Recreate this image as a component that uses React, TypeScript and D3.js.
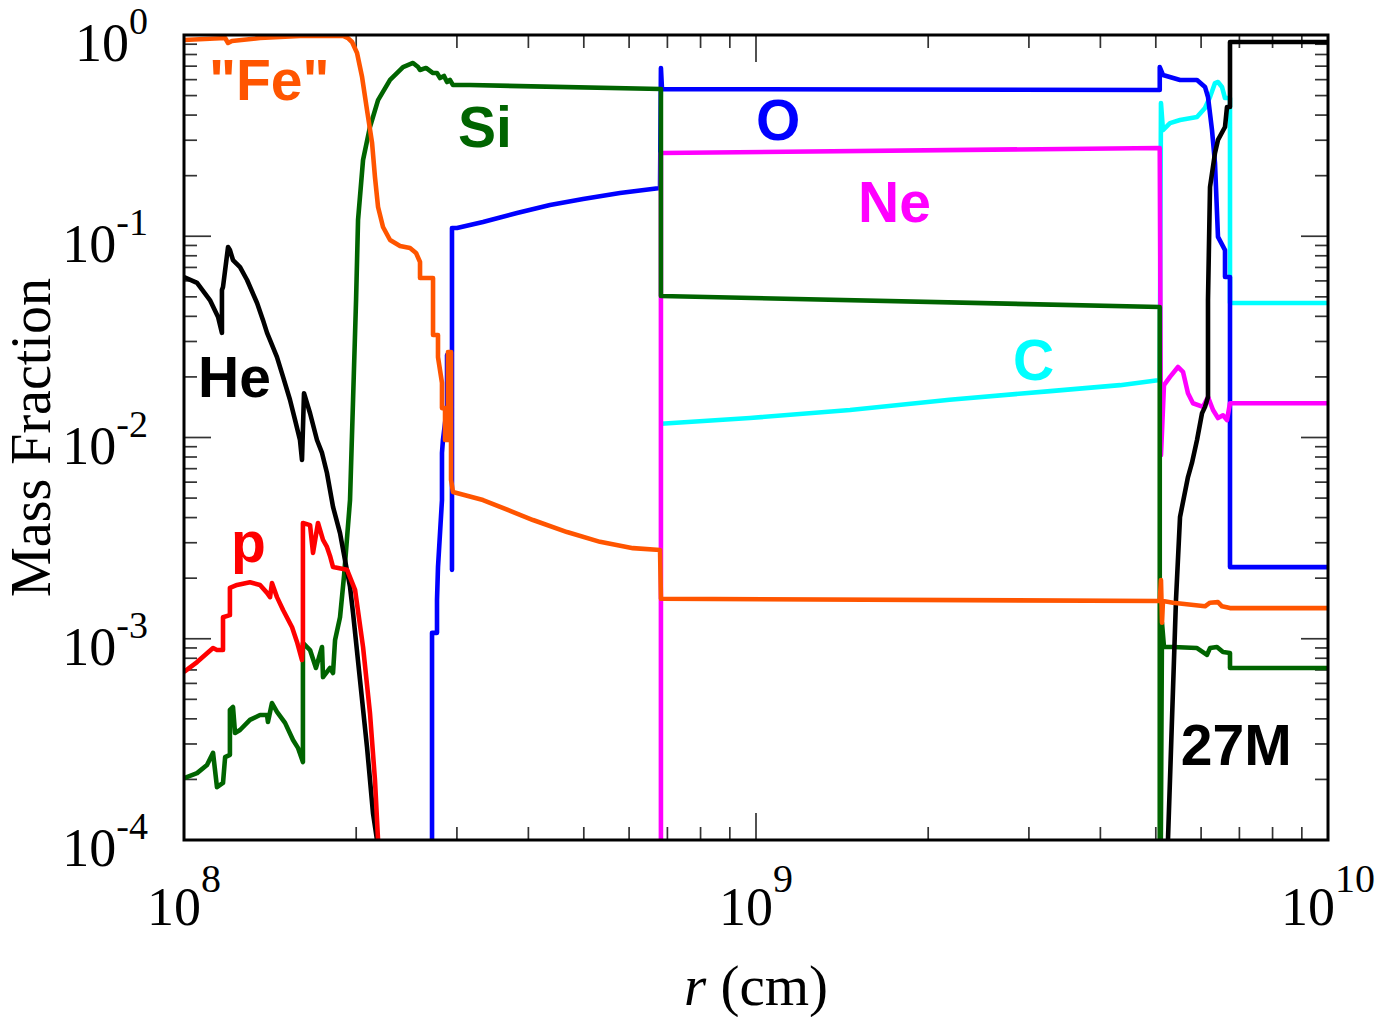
import React from "react";
import * as d3 from "d3";

type Pt = [number, number];

// radius in units of 1e8 cm, mass fraction (1e-5 = off the bottom of the axis)
const carbon: Pt[] = [
  [6.82, 0.0117], [9.76, 0.0125], [14.6, 0.0137], [21.8, 0.0154], [32.7, 0.017], [43.3, 0.0182], [50.8, 0.0193],
  [51.05, 0.459], [51.46, 0.337], [52.94, 0.365], [55.12, 0.378], [59.02, 0.391], [60.95, 0.434], [62.19, 0.492],
  [63.45, 0.577], [64.22, 0.584], [65.26, 0.552], [66.06, 0.486], [67.4, 0.486], [67.4, 0.0466], [100, 0.0466],
];

const oxygen: Pt[] = [
  [2.714, 1e-5], [2.714, 0.00107], [2.769, 0.00107], [2.769, 0.00156], [2.78, 0.00227], [2.825, 0.00489],
  [2.825, 0.00838], [2.836, 0.00972], [2.883, 0.0142], [2.883, 0.0257], [2.906, 0.0257], [2.906, 0.0122],
  [2.941, 0.0122], [2.941, 0.0022], [2.941, 0.1099], [3.001, 0.1099], [3.332, 0.1177], [3.821, 0.1304],
  [4.364, 0.143], [4.985, 0.1532], [5.783, 0.164], [6.796, 0.1737], [6.82, 0.686], [6.85, 0.539],
  [50.8, 0.533], [50.8, 0.693], [51.46, 0.633], [55.12, 0.598], [59.02, 0.598], [60.95, 0.552], [61.69, 0.492],
  [62.69, 0.337], [63.45, 0.2312], [64.22, 0.0992], [66.06, 0.0854], [66.06, 0.0627], [67.4, 0.0627],
  [67.4, 0.00227], [100, 0.00227],
];

const neon: Pt[] = [
  [6.82, 1e-5], [6.82, 0.2593], [50.8, 0.2745], [51.05, 0.00818], [51.67, 0.0182], [52.94, 0.02], [54.67, 0.0224],
  [55.78, 0.0212], [56.91, 0.0166], [58.07, 0.0148], [60.46, 0.0142], [61.69, 0.0159], [62.95, 0.0137],
  [64.22, 0.0125], [65.53, 0.0129], [66.59, 0.0122], [67.4, 0.0148], [100, 0.0148],
];

const silicon: Pt[] = [
  [1.0, 0.000203], [1.054, 0.000215], [1.097, 0.000236], [1.124, 0.000271], [1.142, 0.000183], [1.17, 0.000192],
  [1.18, 0.000258], [1.203, 0.000265], [1.203, 0.000443], [1.218, 0.000458], [1.228, 0.00034], [1.253, 0.000352],
  [1.304, 0.000395], [1.358, 0.000418], [1.397, 0.000418], [1.402, 0.000386], [1.425, 0.000479], [1.454, 0.000433],
  [1.502, 0.000382], [1.551, 0.000314], [1.582, 0.000287], [1.614, 0.000244], [1.614, 0.000953], [1.661, 0.000879],
  [1.701, 0.000716], [1.743, 0.00091], [1.75, 0.000645], [1.8, 0.000716], [1.822, 0.000676], [1.837, 0.000986],
  [1.874, 0.00128], [1.905, 0.00207], [1.951, 0.00489], [1.975, 0.0154], [1.999, 0.0482], [2.015, 0.1204],
  [2.056, 0.2392], [2.114, 0.349], [2.184, 0.475], [2.292, 0.598], [2.415, 0.693], [2.514, 0.726], [2.566, 0.693],
  [2.586, 0.67], [2.649, 0.686], [2.725, 0.647], [2.769, 0.647], [2.803, 0.611], [2.848, 0.626], [2.883, 0.584],
  [2.917, 0.598], [2.953, 0.564], [3.162, 0.564], [6.82, 0.539], [6.82, 0.0505], [50.8, 0.0445], [50.8, 1e-5],
  [51.26, 0.0012], [51.67, 0.00091], [53.58, 0.00091], [59.02, 0.000899], [61.44, 0.000831], [62.19, 0.000899],
  [63.96, 0.00091], [65.53, 0.000859], [67.4, 0.00085], [67.4, 0.000716], [100, 0.000716],
];

const heliumCore: Pt[] = [
  [1.0, 0.0627], [1.054, 0.0586], [1.11, 0.0482], [1.147, 0.0397], [1.165, 0.0331], [1.165, 0.0541], [1.17, 0.056],
  [1.194, 0.0884], [1.203, 0.0854], [1.218, 0.0762], [1.253, 0.0703], [1.289, 0.0606], [1.342, 0.0466],
  [1.374, 0.0384], [1.397, 0.0331], [1.414, 0.0305], [1.454, 0.0251], [1.49, 0.02], [1.532, 0.0154],
  [1.564, 0.0122], [1.595, 0.00972], [1.608, 0.00773], [1.621, 0.0166], [1.661, 0.0132], [1.708, 0.00972],
  [1.743, 0.00838], [1.778, 0.00666], [1.822, 0.00452], [1.874, 0.00335], [1.912, 0.00246], [1.951, 0.00181],
  [1.975, 0.00134], [2.031, 0.000624], [2.089, 0.00029], [2.14, 0.000136], [2.175, 0.0001], [2.201, 5e-5],
];

const heliumEnvelope: Pt[] = [
  [52.3, 1e-5], [52.51, 1e-4], [54.23, 0.00156], [55.12, 0.00403], [56.91, 0.00636], [57.83, 0.00747],
  [59.02, 0.00972], [60.22, 0.0132], [60.95, 0.0142], [61.69, 0.0159], [61.69, 0.0482], [62.19, 0.1757],
  [63.45, 0.2593], [64.22, 0.301], [66.06, 0.349], [66.59, 0.439], [67.4, 0.439], [67.4, 0.923], [100, 0.923],
];

const proton: Pt[] = [
  [1.0, 0.000684], [1.054, 0.000766], [1.124, 0.000899], [1.142, 0.000879], [1.17, 0.000879], [1.17, 0.00128],
  [1.203, 0.00131], [1.203, 0.00179], [1.238, 0.00185], [1.304, 0.00191], [1.358, 0.00185], [1.397, 0.00169],
  [1.414, 0.00161], [1.425, 0.00189], [1.454, 0.00161], [1.49, 0.00139], [1.545, 0.00114], [1.576, 0.000964],
  [1.608, 0.000784], [1.614, 0.000953], [1.614, 0.00376], [1.661, 0.00367], [1.681, 0.00267], [1.715, 0.00376],
  [1.75, 0.0031], [1.778, 0.00286], [1.8, 0.00258], [1.822, 0.00227], [1.928, 0.0022], [1.991, 0.00175],
  [2.056, 0.00091], [2.114, 0.000428], [2.157, 0.000199], [2.184, 0.0001], [2.201, 6e-5],
];

const iron: Pt[] = [
  [1.0, 0.944], [1.18, 0.966], [1.194, 0.913], [1.213, 0.934], [1.358, 0.966], [1.595, 0.989], [1.897, 0.989],
  [1.935, 0.966], [1.967, 0.923], [2.007, 0.814], [2.048, 0.618], [2.089, 0.424], [2.132, 0.291], [2.157, 0.197],
  [2.184, 0.1397], [2.228, 0.1112], [2.292, 0.0958], [2.386, 0.0894], [2.484, 0.0874], [2.545, 0.0826],
  [2.586, 0.0745], [2.586, 0.062], [2.725, 0.062], [2.725, 0.0323], [2.78, 0.0323], [2.78, 0.0251], [2.825, 0.0187],
  [2.825, 0.014], [2.86, 0.014], [2.86, 0.00972], [2.894, 0.00972], [2.894, 0.0266], [2.93, 0.0266],
  [2.93, 0.00615], [2.953, 0.00536], [3.332, 0.00489], [4.075, 0.00389], [4.673, 0.00339], [5.337, 0.00303],
  [6.095, 0.00282], [6.796, 0.00276], [6.82, 0.00158], [50.8, 0.00154], [51.05, 0.00196], [51.26, 0.0012],
  [51.46, 0.00154], [53.58, 0.00151], [60.95, 0.00145], [62.19, 0.00151], [64.22, 0.00152], [65.26, 0.00145],
  [67.4, 0.00142], [100, 0.00142],
];

// drawing order matters where the steps overlap
const series = [
  { key: "C", color: "#00ffff", data: carbon },
  { key: "O", color: "#0000ff", data: oxygen },
  { key: "Ne", color: "#ff00ff", data: neon },
  { key: "Si", color: "#006400", data: silicon },
  { key: "He1", color: "#000000", data: heliumCore },
  { key: "He2", color: "#000000", data: heliumEnvelope },
  { key: "p", color: "#ff0000", data: proton },
  { key: "Fe", color: "#ff5500", data: iron },
];

// species labels placed in data coordinates (left edge, baseline)
const labels = [
  { text: '"Fe"', color: "#ff5500", r: 1.106, v: 0.475 },
  { text: "Si", color: "#006400", r: 3.013, v: 0.278 },
  { text: "O", color: "#0000ff", r: 10.0, v: 0.301 },
  { text: "Ne", color: "#ff00ff", r: 15.08, v: 0.1177 },
  { text: "C", color: "#00ffff", r: 28.14, v: 0.0193 },
  { text: "He", color: "#000000", r: 1.058, v: 0.0159 },
  { text: "p", color: "#ff0000", r: 1.208, v: 0.00241 },
  { text: "27M", color: "#000000", r: 55.3, v: 0.000236 },
];

const xMajor = [1e8, 1e9, 1e10];
const xExp = ["8", "9", "10"];
const yMajor = [1, 1e-1, 1e-2, 1e-3, 1e-4];
const yExp = ["0", "-1", "-2", "-3", "-4"];

const W = 1382;
const H = 1017;
const margin = { top: 35, right: 54, bottom: 177, left: 184 };
const R_UNIT = 1e8;

const serif = "'Liberation Serif', 'Times New Roman', Times, serif";
const sans = "'Liberation Sans', Arial, Helvetica, sans-serif";

export default function App() {
  const x = d3.scaleLog().domain([1e8, 1e10]).range([margin.left, W - margin.right]);
  const y = d3.scaleLog().domain([1e-4, 1]).range([H - margin.bottom, margin.top]);

  const line = d3
    .line<Pt>()
    .x((d) => x(d[0] * R_UNIT))
    .y((d) => y(d[1]));

  const x0 = margin.left;
  const x1 = W - margin.right;
  const y0 = margin.top;
  const y1 = H - margin.bottom;

  const isMajor = (v: number) => Math.abs(Math.log10(v) - Math.round(Math.log10(v))) < 1e-9;
  const xTicks = x.ticks();
  const yTicks = y.ticks();
  const major = 27;
  const minor = 13;
  const tickColor = "#333";

  return (
    <svg
      width={W}
      height={H}
      style={{ position: "absolute", left: 0, top: 0, background: "#fff" }}
    >
      <defs>
        <clipPath id="plot">
          <rect x={x0} y={y0} width={x1 - x0} height={y1 - y0} />
        </clipPath>
      </defs>

      {/* ticks, mirrored on all four sides */}
      <g stroke={tickColor} strokeWidth={1.7}>
        {xTicks.map((t, i) => {
          const len = isMajor(t) ? major : minor;
          const px = x(t);
          return (
            <g key={"xt" + i}>
              <line x1={px} x2={px} y1={y1} y2={y1 - len} />
              <line x1={px} x2={px} y1={y0} y2={y0 + len} />
            </g>
          );
        })}
        {yTicks.map((t, i) => {
          const len = isMajor(t) ? major : minor;
          const py = y(t);
          return (
            <g key={"yt" + i}>
              <line x1={x0} x2={x0 + len} y1={py} y2={py} />
              <line x1={x1} x2={x1 - len} y1={py} y2={py} />
            </g>
          );
        })}
      </g>

      <g clipPath="url(#plot)">
        {series.map((s) => (
          <path
            key={s.key}
            d={line(s.data) || ""}
            fill="none"
            stroke={s.color}
            strokeWidth={4.6}
            strokeLinejoin="round"
          />
        ))}
      </g>

      <rect x={x0} y={y0} width={x1 - x0} height={y1 - y0} fill="none" stroke="#000" strokeWidth={3} />

      {labels.map((l) => (
        <text
          key={l.text}
          x={x(l.r * R_UNIT)}
          y={y(l.v)}
          fill={l.color}
          fontFamily={sans}
          fontWeight="bold"
          fontSize={57}
        >
          {l.text}
        </text>
      ))}

      {/* axis numbers */}
      {xMajor.map((t, i) => (
        <text key={"xl" + i} x={x(t)} y={y1 + 85} textAnchor="middle" fontFamily={serif} fontSize={54} fill="#000">
          <tspan>10</tspan>
          <tspan dy={-33} fontSize={40}>{xExp[i]}</tspan>
        </text>
      ))}
      {yMajor.map((t, i) => (
        <text key={"yl" + i} x={148} y={y(t) + 26} textAnchor="end" fontFamily={serif} fontSize={54} fill="#000">
          <tspan>10</tspan>
          <tspan dy={-27} fontSize={38}>{yExp[i]}</tspan>
        </text>
      ))}

      <text x={(x0 + x1) / 2} y={1005} textAnchor="middle" fontFamily={serif} fontSize={57} fill="#000">
        <tspan fontStyle="italic">r</tspan> (cm)
      </text>
      <text
        transform={`translate(50,${(y0 + y1) / 2}) rotate(-90)`}
        textAnchor="middle"
        fontFamily={serif}
        fontSize={56}
        fill="#000"
      >
        Mass Fraction
      </text>
    </svg>
  );
}
